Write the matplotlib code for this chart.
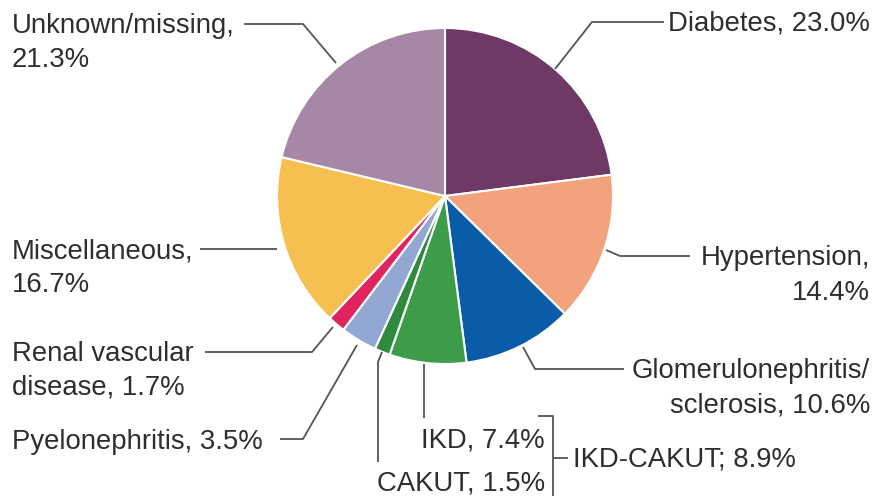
import matplotlib
matplotlib.use("Agg")
import matplotlib.pyplot as plt

categories = ["Diabetes", "Hypertension", "Glomerulonephritis/sclerosis", "IKD", "CAKUT",
              "Pyelonephritis", "Renal vascular disease", "Miscellaneous", "Unknown/missing"]
values = [23.0, 14.4, 10.6, 7.4, 1.5, 3.5, 1.7, 16.7, 21.3]
colors = ["#6E3A65", "#F2A27C", "#0B5CA8", "#3C9C4A", "#2F8A3E",
          "#93A7D3", "#E0245E", "#F6BF4F", "#A687A6"]
group_label = "IKD-CAKUT; 8.9%"

W, H = 879, 496
fig = plt.figure(figsize=(W / 100, H / 100), dpi=100)
ax = fig.add_axes([0, 0, 1, 1])

cx, cy, r = 445, 196, 168


def Y(y):
    return H - y


ax.pie(values, colors=colors, startangle=90, counterclock=False,
       center=(cx, Y(cy)), radius=r,
       wedgeprops=dict(edgecolor="white", linewidth=1.5))
ax.set_xlim(0, W)
ax.set_ylim(0, H)
ax.set_aspect("equal")
ax.axis("off")

lc = "#555555"
lw = 1.3
tc = "#2E2E2E"
fs = 19.8
fam = ["Liberation Sans", "DejaVu Sans"]


def line(pts):
    ax.plot([p[0] for p in pts], [Y(p[1]) for p in pts], color=lc, lw=lw,
            solid_capstyle="butt")


def txt(x, y, s, ha="left"):
    ax.text(x, Y(y), s, ha=ha, va="baseline", fontsize=fs, color=tc, family=fam)


# Diabetes
line([(555, 69), (592, 22), (664, 22)])
txt(668, 30, f"{categories[0]}, {values[0]:.1f}%")

# Unknown/missing
line([(336, 63), (303, 24), (244, 24)])
txt(12, 33, "Unknown/missing,")
txt(12, 67, f"{values[8]:.1f}%")

# Hypertension
line([(606, 250), (620, 256), (690, 256)])
txt(870, 265, "Hypertension,", ha="right")
txt(870, 300, f"{values[1]:.1f}%", ha="right")

# Glomerulonephritis
line([(523, 347), (535, 369), (624, 369)])
txt(870, 378, "Glomerulonephritis/", ha="right")
txt(870, 413, f"sclerosis, {values[2]:.1f}%", ha="right")

# Miscellaneous
line([(200, 249), (277, 249)])
txt(12, 258, "Miscellaneous,")
txt(12, 292, f"{values[7]:.1f}%")

# Renal vascular disease
line([(205, 352), (312, 352), (333, 327)])
txt(12, 361, "Renal vascular")
txt(12, 395, f"disease, {values[6]:.1f}%")

# Pyelonephritis
line([(280, 439), (303, 439), (357, 345)])
txt(12, 449, f"{categories[5]}, {values[5]:.1f}%")

# IKD
line([(424, 364), (424, 418)])
txt(545, 448, f"{categories[3]}, {values[3]:.1f}%", ha="right")

# CAKUT
line([(382, 352), (378, 362), (378, 462)])
txt(545, 491, f"{categories[4]}, {values[4]:.1f}%", ha="right")

# bracket
line([(538, 416), (553, 416), (553, 496)])
line([(553, 458), (568, 458)])
txt(573, 467, group_label)

fig.savefig("out.png", dpi=100)
